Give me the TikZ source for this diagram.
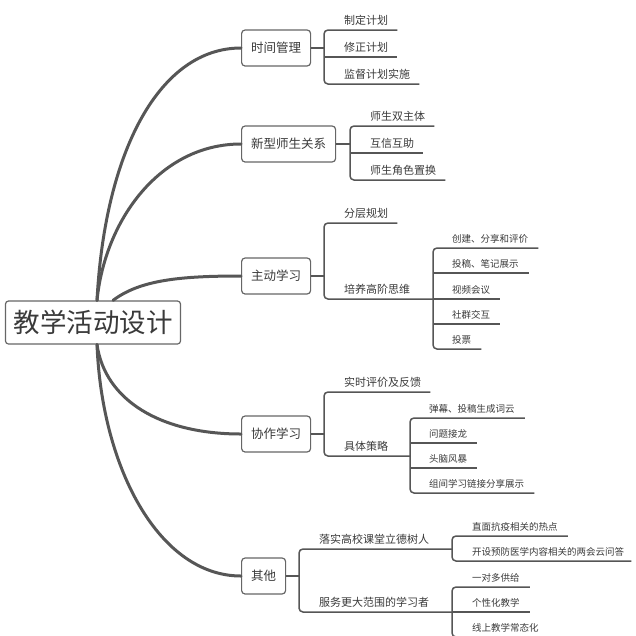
\documentclass[tikz,border=0pt]{standalone}
\usepackage{fontspec}
\setmainfont{Noto Sans CJK SC}
\definecolor{ln}{HTML}{565656}
\definecolor{tx}{HTML}{3A3A3A}
\definecolor{bd}{HTML}{666666}
\begin{document}
\begin{tikzpicture}[x=1pt,y=-1pt,
  mainline/.style={draw=ln,line width=3pt,line cap=round},
  subline/.style={draw=ln,line width=1.5pt},
  rootbox/.style={draw=bd,line width=1.2pt,rounded corners=3pt,fill=white,text=tx,
    font=\fontsize{26.5}{30}\selectfont,inner xsep=8pt,inner ysep=0pt,minimum height=43pt},
  topicbox/.style={draw=bd,line width=1.2pt,rounded corners=3.5pt,fill=white,text=tx,
    font=\fontsize{12.5}{15}\selectfont,inner xsep=9.5pt,inner ysep=0pt,minimum height=36pt,anchor=west},
  lvtwo/.style={anchor=south west,text=tx,font=\fontsize{11}{13}\selectfont,
    inner xsep=9pt,inner ysep=5.8pt,text depth=0pt},
  lvthree/.style={anchor=south west,text=tx,font=\fontsize{9.5}{11}\selectfont,
    inner xsep=10pt,inner ysep=5.4pt,text depth=0pt}]
\useasboundingbox (0,0) rectangle (636,635);

% root and topics
\node[rootbox] (root) at (93,322.5) {教学活动设计};
\node[topicbox] (t1) at (241,48) {时间管理};
\node[topicbox] (t2) at (241,144) {新型师生关系};
\node[topicbox] (t3) at (241,276) {主动学习};
\node[topicbox] (t4) at (241,434) {协作学习};
\node[topicbox] (t5) at (241,576) {其他};

\coordinate (su) at ([xshift=4pt]root.north);
\coordinate (sm) at ([xshift=20pt]root.north);
\coordinate (sd) at ([xshift=4pt]root.south);
\draw[mainline] (su) .. controls (105,150) and (160,48) .. (t1.west);
\draw[mainline] (su) .. controls (105,220) and (160,144) .. (t2.west);
\draw[mainline] (sm) .. controls (140,280) and (180,276) .. (t3.west);
\draw[mainline] (sd) .. controls (105,400) and (160,434) .. (t4.west);
\draw[mainline] (sd) .. controls (102,470) and (160,576) .. (t5.west);

% ---- 时间管理
\coordinate (b1) at (324,48);
\node[lvtwo] (a11) at (335,30) {制定计划};
\node[lvtwo] (a12) at (335,57) {修正计划};
\node[lvtwo] (a13) at (335,84) {监督计划实施};
\draw[subline] (t1.east) -- (b1);
\draw[subline,rounded corners=4pt] (a11.south east) -- (a11.south -| b1) -- (a13.south -| b1) -- (a13.south east);
\draw[subline] (a12.south -| b1) -- (a12.south east);

% ---- 新型师生关系
\coordinate (b2) at (350,144);
\node[lvtwo] (a21) at (361,126) {师生双主体};
\node[lvtwo] (a22) at (361,153) {互信互助};
\node[lvtwo] (a23) at (361,180) {师生角色置换};
\draw[subline] (t2.east) -- (b2);
\draw[subline,rounded corners=4pt] (a21.south east) -- (a21.south -| b2) -- (a23.south -| b2) -- (a23.south east);
\draw[subline] (a22.south -| b2) -- (a22.south east);

% ---- 主动学习
\coordinate (b3) at (324,276);
\node[lvtwo] (a31) at (335,223) {分层规划};
\node[lvtwo] (a32) at (335,299) {培养高阶思维};
\draw[subline] (t3.east) -- (b3);
\coordinate (c3) at (433,299);
\draw[subline,rounded corners=4pt] (a31.south east) -- (a31.south -| b3) -- (a32.south -| b3) -- (c3);
\node[lvthree] (a321) at (442,248) {创建、分享和评价};
\node[lvthree] (a322) at (442,273) {投稿、笔记展示};
\node[lvthree] (a323) at (442,299) {视频会议};
\node[lvthree] (a324) at (442,324) {社群交互};
\node[lvthree] (a325) at (442,349) {投票};
\draw[subline,rounded corners=4pt] (a321.south east) -- (a321.south -| c3) -- (a325.south -| c3) -- (a325.south east);
\draw[subline] (a322.south -| c3) -- (a322.south east);
\draw[subline] (a323.south -| c3) -- (a323.south east);
\draw[subline] (a324.south -| c3) -- (a324.south east);

% ---- 协作学习
\coordinate (b4) at (324,434);
\node[lvtwo] (a41) at (335,392) {实时评价及反馈};
\node[lvtwo] (a42) at (335,456) {具体策略};
\draw[subline] (t4.east) -- (b4);
\coordinate (c4) at (410,456);
\draw[subline,rounded corners=4pt] (a41.south east) -- (a41.south -| b4) -- (a42.south -| b4) -- (c4);
\node[lvthree] (a421) at (419,418) {弹幕、投稿生成词云};
\node[lvthree] (a422) at (419,443) {问题接龙};
\node[lvthree] (a423) at (419,468) {头脑风暴};
\node[lvthree] (a424) at (419,493) {组间学习链接分享展示};
\draw[subline,rounded corners=4pt] (a421.south east) -- (a421.south -| c4) -- (a424.south -| c4) -- (a424.south east);
\draw[subline] (a422.south -| c4) -- (a422.south east);
\draw[subline] (a423.south -| c4) -- (a423.south east);

% ---- 其他
\coordinate (b5) at (299,576);
\node[lvtwo] (a51) at (310,549) {落实高校课堂立德树人};
\node[lvtwo] (a52) at (310,612) {服务更大范围的学习者};
\draw[subline] (t5.east) -- (b5);
\coordinate (c51) at (452,549);
\coordinate (c52) at (452,612);
\draw[subline,rounded corners=4pt] (c51) -- (a51.south -| b5) -- (a52.south -| b5) -- (c52);
\node[lvthree] (a511) at (462,536) {直面抗疫相关的热点};
\node[lvthree,inner xsep=7pt] (a512) at (465,561) {开设预防医学内容相关的两会云问答};
\draw[subline,rounded corners=4pt] (a511.south east) -- (a511.south -| c51) -- (a512.south -| c51) -- (a512.south east);
\node[lvthree] (a521) at (462,587) {一对多供给};
\node[lvthree] (a522) at (462,612) {个性化教学};
\node[lvthree] (a523) at (462,637) {线上教学常态化};
\draw[subline,rounded corners=4pt] (a521.south east) -- (a521.south -| c52) -- (a523.south -| c52) -- (a523.south east);
\draw[subline] (a522.south -| c52) -- (a522.south east);
\end{tikzpicture}
\end{document}
